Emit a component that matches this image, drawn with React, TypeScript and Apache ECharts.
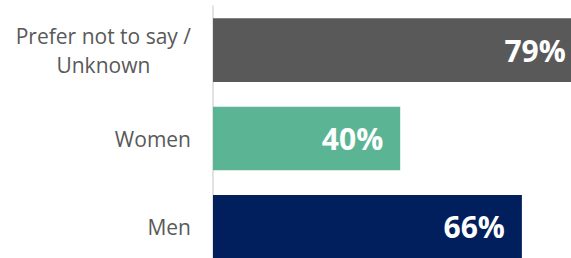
import React, { useEffect, useRef } from "react";
import * as echarts from "echarts";

const categories: string[] = ["Prefer not to say / Unknown", "Women", "Men"];
const values: number[] = [79, 40, 66];
const barColors: string[] = ["#595959", "#5BB595", "#001F5C"];

export default function App() {
  const ref = useRef<HTMLDivElement>(null);
  useEffect(() => {
    if (!ref.current) return;
    const chart = echarts.init(ref.current, undefined, { renderer: "svg" });
    chart.setOption({
      animation: false,
      grid: { left: 213, top: 6, height: 265, width: 468, outerBoundsMode: "none", containLabel: false },
      xAxis: { type: "value", min: 0, max: 100, show: false },
      yAxis: {
        type: "category",
        inverse: true,
        data: categories,
        axisTick: { show: false },
        axisLine: { show: true, lineStyle: { color: "#D9D9D9", width: 1.5 } },
        axisLabel: {
          margin: 22,
          color: "#595959",
          fontSize: 21,
          fontFamily: "Open Sans",
          lineHeight: 29,
          formatter: (v: string) => {
            if (v.indexOf(" / ") >= 0) {
              const parts = v.split(" / ");
              return "{c|" + parts[0] + " /}\n{c|" + parts[1] + "}";
            }
            return v;
          },
          rich: {
            c: {
              align: "center",
              color: "#595959",
              fontSize: 21,
              fontFamily: "Open Sans",
              lineHeight: 29,
            },
          },
        },
      },
      series: [
        {
          type: "bar",
          barCategoryGap: "28%",
          data: values.map((v, i) => ({ value: v, itemStyle: { color: barColors[i] } })),
          label: {
            show: true,
            position: "insideRight",
            distance: 17,
            color: "#FFFFFF",
            fontWeight: "bold",
            fontSize: 30,
            fontFamily: "Open Sans",
            formatter: (p: any) => p.value + "%",
          },
        },
      ],
    });
    return () => chart.dispose();
  }, []);
  return (
    <div
      ref={ref}
      style={{ position: "fixed", left: 0, top: 0, width: 571, height: 258, background: "#fff" }}
    />
  );
}
